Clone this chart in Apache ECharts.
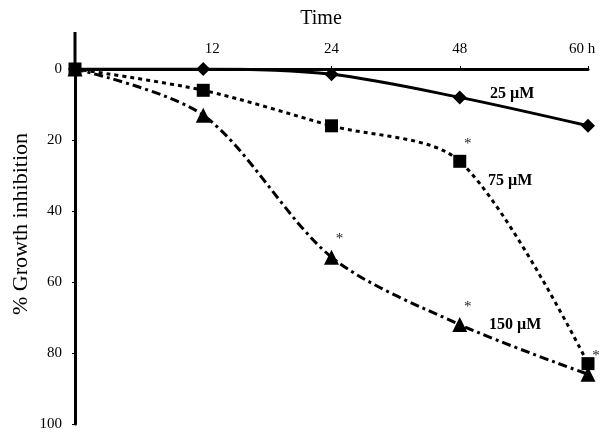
<!DOCTYPE html>
<html><head><meta charset="utf-8">
<script src="https://cdn.jsdelivr.net/npm/echarts@6/dist/echarts.min.js"></script>
<style>html,body{margin:0;padding:0;background:#fff}#c{width:615px;height:436px}</style>
</head><body><div id="c"></div>
<script>
const categories = ['0', '12', '24', '48', '60 h'];
const s25 = [0, 0, 1.5, 8, 16];
const s75 = [0, 6, 16, 26, 83];
const s150 = [0, 13, 53, 72, 86];
const stars75 = [3];
const stars150 = [2, 3, 4];
const FONT = '"Liberation Serif", "DejaVu Serif", serif';

function withStars(vals, idx) {
  return vals.map((v, i) => idx.includes(i) ? {
    value: v,
    label: { show: true, formatter: '*', position: 'top', offset: [8, 2], color: '#222', fontSize: 15, fontFamily: FONT }
  } : v);
}

const chart = echarts.init(document.getElementById('c'));
chart.setOption({
  animation: false,
  backgroundColor: '#fff',
  title: { text: 'Time', left: 316, top: 4, textAlign: 'center',
    textStyle: { fontFamily: FONT, fontSize: 20, fontWeight: 'normal', color: '#000' } },
  grid: { left: 75, right: 27, top: 69, bottom: 12 },
  xAxis: {
    type: 'category', data: categories, boundaryGap: false, position: 'top',
    axisLine: { onZero: false, lineStyle: { color: '#000', width: 3 } },
    axisTick: { show: true, length: 3, lineStyle: { color: '#000', width: 1 } },
    axisLabel: { color: '#000', fontFamily: FONT, fontSize: 15, margin: 12,
      formatter: (v, i) => i === 0 ? '' : (i === 1 ? '{a|' + v + '}' : (i === 4 ? '{b|' + v + '}' : v)),
      rich: {
        a: { fontFamily: FONT, fontSize: 15, color: '#000', padding: [0, 0, 0, 18] },
        b: { fontFamily: FONT, fontSize: 15, color: '#000', padding: [0, 12, 0, 0] }
      } },
    splitLine: { show: false }
  },
  yAxis: {
    type: 'value', inverse: true, min: 0, max: 100, interval: 20,
    axisLine: { show: true, lineStyle: { color: '#000', width: 3 } },
    axisTick: { show: true, length: 3, lineStyle: { color: '#000' } },
    axisLabel: { color: '#000', fontFamily: FONT, fontSize: 15, margin: 13 },
    splitLine: { show: false }
  },
  series: [
    { name: '25 µM', type: 'line', data: s25, smooth: 0.3, symbol: 'diamond', symbolSize: 14,
      itemStyle: { color: '#000' }, lineStyle: { color: '#000', width: 3, type: 'solid' }, z: 3 },
    { name: '75 µM', type: 'line', data: withStars(s75, stars75), smooth: 0.3, symbol: 'rect', symbolSize: 13,
      itemStyle: { color: '#000' }, lineStyle: { color: '#000', width: 3, type: [4, 4] }, z: 4 },
    { name: '150 µM', type: 'line', data: withStars(s150, stars150), smooth: 0.3, symbol: 'triangle', symbolSize: 15,
      itemStyle: { color: '#000' }, lineStyle: { color: '#000', width: 3, type: [9, 4, 3, 4] }, z: 2 }
  ],
  graphic: [
    { type: 'line', shape: { x1: 75, y1: 32, x2: 75, y2: 69 }, style: { stroke: '#000', lineWidth: 3 } },
    { type: 'text', x: 21, y: 224, rotation: Math.PI / 2,
      style: { text: '% Growth inhibition', font: '22px ' + FONT, fill: '#000', align: 'center', verticalAlign: 'middle' } },
    { type: 'text', left: 490, top: 86, style: { text: '25 µM', font: 'bold 16px ' + FONT, fill: '#000' } },
    { type: 'text', left: 488, top: 173, style: { text: '75 µM', font: 'bold 16px ' + FONT, fill: '#000' } },
    { type: 'text', left: 489, top: 317, style: { text: '150 µM', font: 'bold 16px ' + FONT, fill: '#000' } }
  ]
});
</script></body></html>
